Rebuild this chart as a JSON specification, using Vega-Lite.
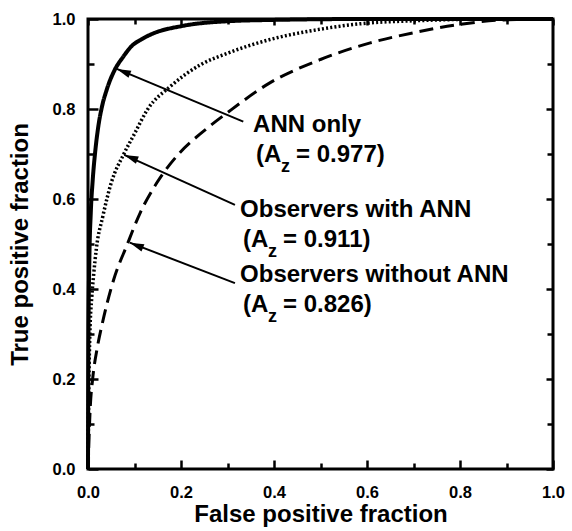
{
  "$schema": "https://vega.github.io/schema/vega-lite/v6.json",
  "width": 465,
  "height": 450,
  "autosize": {"type": "none"},
  "padding": {"left": 88, "top": 19, "right": 19, "bottom": 62},
  "background": "white",
  "config": {
    "view": {"stroke": "black", "strokeWidth": 3},
    "font": "Liberation Sans",
    "axis": {
      "domain": false,
      "grid": false,
      "tickColor": "black",
      "tickWidth": 2.5,
      "labelFont": "Liberation Sans",
      "labelFontWeight": "bold",
      "labelFontSize": 16.5,
      "labelColor": "black",
      "labelFlush": false,
      "labelOverlap": false,
      "titleFont": "Liberation Sans",
      "titleFontWeight": "bold",
      "titleFontSize": 24,
      "titleColor": "black"
    }
  },
  "datasets": {
    "curves": [
      {"series": "ANN only", "fpf": 0, "tpf": 0},
      {"series": "ANN only", "fpf": 0.001, "tpf": 0.3},
      {"series": "ANN only", "fpf": 0.003, "tpf": 0.47},
      {"series": "ANN only", "fpf": 0.006, "tpf": 0.57},
      {"series": "ANN only", "fpf": 0.01, "tpf": 0.64},
      {"series": "ANN only", "fpf": 0.016, "tpf": 0.71},
      {"series": "ANN only", "fpf": 0.022, "tpf": 0.76},
      {"series": "ANN only", "fpf": 0.03, "tpf": 0.805},
      {"series": "ANN only", "fpf": 0.04, "tpf": 0.842},
      {"series": "ANN only", "fpf": 0.058, "tpf": 0.888},
      {"series": "ANN only", "fpf": 0.075, "tpf": 0.915},
      {"series": "ANN only", "fpf": 0.094, "tpf": 0.94},
      {"series": "ANN only", "fpf": 0.115, "tpf": 0.955},
      {"series": "ANN only", "fpf": 0.143, "tpf": 0.969},
      {"series": "ANN only", "fpf": 0.2, "tpf": 0.984},
      {"series": "ANN only", "fpf": 0.3, "tpf": 0.995},
      {"series": "ANN only", "fpf": 0.4, "tpf": 0.998},
      {"series": "ANN only", "fpf": 0.6, "tpf": 1.0},
      {"series": "ANN only", "fpf": 1.0, "tpf": 1.0},
      {"series": "Observers with ANN", "fpf": 0, "tpf": 0},
      {"series": "Observers with ANN", "fpf": 0.002, "tpf": 0.2},
      {"series": "Observers with ANN", "fpf": 0.004, "tpf": 0.3},
      {"series": "Observers with ANN", "fpf": 0.008, "tpf": 0.38},
      {"series": "Observers with ANN", "fpf": 0.012, "tpf": 0.43},
      {"series": "Observers with ANN", "fpf": 0.018, "tpf": 0.49},
      {"series": "Observers with ANN", "fpf": 0.032, "tpf": 0.562},
      {"series": "Observers with ANN", "fpf": 0.05, "tpf": 0.636},
      {"series": "Observers with ANN", "fpf": 0.077, "tpf": 0.7},
      {"series": "Observers with ANN", "fpf": 0.1, "tpf": 0.745},
      {"series": "Observers with ANN", "fpf": 0.128, "tpf": 0.799},
      {"series": "Observers with ANN", "fpf": 0.178, "tpf": 0.851},
      {"series": "Observers with ANN", "fpf": 0.243, "tpf": 0.899},
      {"series": "Observers with ANN", "fpf": 0.3, "tpf": 0.924},
      {"series": "Observers with ANN", "fpf": 0.39, "tpf": 0.954},
      {"series": "Observers with ANN", "fpf": 0.498, "tpf": 0.977},
      {"series": "Observers with ANN", "fpf": 0.591, "tpf": 0.99},
      {"series": "Observers with ANN", "fpf": 0.7, "tpf": 0.996},
      {"series": "Observers with ANN", "fpf": 0.8, "tpf": 0.999},
      {"series": "Observers with ANN", "fpf": 0.9, "tpf": 1.0},
      {"series": "Observers with ANN", "fpf": 1.0, "tpf": 1.0},
      {"series": "Observers without ANN", "fpf": 0, "tpf": 0},
      {"series": "Observers without ANN", "fpf": 0.005, "tpf": 0.14},
      {"series": "Observers without ANN", "fpf": 0.01, "tpf": 0.2},
      {"series": "Observers without ANN", "fpf": 0.02, "tpf": 0.27},
      {"series": "Observers without ANN", "fpf": 0.03, "tpf": 0.32},
      {"series": "Observers without ANN", "fpf": 0.055, "tpf": 0.42},
      {"series": "Observers without ANN", "fpf": 0.084, "tpf": 0.498},
      {"series": "Observers without ANN", "fpf": 0.113, "tpf": 0.571},
      {"series": "Observers without ANN", "fpf": 0.148, "tpf": 0.636},
      {"series": "Observers without ANN", "fpf": 0.194, "tpf": 0.699},
      {"series": "Observers without ANN", "fpf": 0.25, "tpf": 0.752},
      {"series": "Observers without ANN", "fpf": 0.3, "tpf": 0.792},
      {"series": "Observers without ANN", "fpf": 0.391, "tpf": 0.858},
      {"series": "Observers without ANN", "fpf": 0.5, "tpf": 0.91},
      {"series": "Observers without ANN", "fpf": 0.607, "tpf": 0.947},
      {"series": "Observers without ANN", "fpf": 0.698, "tpf": 0.969},
      {"series": "Observers without ANN", "fpf": 0.8, "tpf": 0.988},
      {"series": "Observers without ANN", "fpf": 0.892, "tpf": 0.998},
      {"series": "Observers without ANN", "fpf": 1.0, "tpf": 1.0}
    ],
    "notes": [
      {"series": "ANN only", "az": "0.977", "tipX": 0.062, "tipY": 0.889, "tailX": 0.334, "tailY": 0.772, "textX": 0.355, "textY": 0.75},
      {"series": "Observers with ANN", "az": "0.911", "tipX": 0.078, "tipY": 0.698, "tailX": 0.316, "tailY": 0.587, "textX": 0.327, "textY": 0.561},
      {"series": "Observers without ANN", "az": "0.826", "tipX": 0.09, "tipY": 0.503, "tailX": 0.316, "tailY": 0.413, "textX": 0.327, "textY": 0.416}
    ]
  },
  "layer": [
    {
      "data": {"name": "curves"},
      "mark": {"type": "line", "color": "black", "strokeCap": "butt", "strokeJoin": "round", "interpolate": "monotone"},
      "encoding": {
        "x": {
          "field": "fpf", "type": "quantitative",
          "scale": {"domain": [0, 1], "nice": false, "zero": false},
          "axis": {
            "orient": "bottom",
            "values": [0, 0.1, 0.2, 0.3, 0.4, 0.5, 0.6, 0.7, 0.8, 0.9, 1.0],
            "labelExpr": "round(datum.value*10)%2==0 ? format(datum.value,'.1f') : ''",
            "tickSize": {"condition": {"test": "round(datum.value*10)%2==1", "value": -6}, "value": -9},
            "labelPadding": 24,
            "title": "False positive fraction",
            "titlePadding": -1
          }
        },
        "y": {
          "field": "tpf", "type": "quantitative",
          "scale": {"domain": [0, 1], "nice": false, "zero": false},
          "axis": {
            "orient": "left",
            "values": [0, 0.1, 0.2, 0.3, 0.4, 0.5, 0.6, 0.7, 0.8, 0.9, 1.0],
            "labelExpr": "round(datum.value*10)%2==0 ? format(datum.value,'.1f') : ''",
            "tickSize": {"condition": {"test": "round(datum.value*10)%2==1", "value": -6}, "value": -10},
            "labelPadding": 23,
            "title": "True positive fraction",
            "titlePadding": 20
          }
        },
        "strokeDash": {
          "field": "series", "type": "nominal",
          "scale": {"domain": ["ANN only", "Observers with ANN", "Observers without ANN"], "range": [[1, 0], [2, 2.2], [14, 7]]},
          "legend": null
        },
        "strokeWidth": {
          "field": "series", "type": "nominal",
          "scale": {"domain": ["ANN only", "Observers with ANN", "Observers without ANN"], "range": [4, 3, 4]},
          "legend": null
        }
      }
    },
    {
      "data": {"name": "notes"},
      "mark": {"type": "rule", "color": "black", "strokeWidth": 2},
      "encoding": {
        "x": {
          "field": "tipX", "type": "quantitative",
          "scale": {"domain": [0, 1], "nice": false, "zero": false},
          "axis": {
            "orient": "top",
            "values": [0, 0.1, 0.2, 0.3, 0.4, 0.5, 0.6, 0.7, 0.8, 0.9, 1.0],
            "labels": false,
            "tickSize": {"condition": {"test": "round(datum.value*10)%2==1", "value": -5}, "value": -6},
            "title": null
          }
        },
        "y": {
          "field": "tipY", "type": "quantitative",
          "scale": {"domain": [0, 1], "nice": false, "zero": false},
          "axis": {
            "orient": "right",
            "values": [0, 0.1, 0.2, 0.3, 0.4, 0.5, 0.6, 0.7, 0.8, 0.9, 1.0],
            "labels": false,
            "tickSize": {"condition": {"test": "round(datum.value*10)%2==1", "value": -6}, "value": -7},
            "title": null
          }
        },
        "x2": {"field": "tailX"},
        "y2": {"field": "tailY"}
      }
    },
    {
      "data": {"name": "notes"},
      "mark": {"type": "point", "shape": "M0,0L2,-0.55L2,0.55Z", "filled": true, "color": "black", "opacity": 1, "size": 200, "angle": 22},
      "encoding": {
        "x": {"field": "tipX", "type": "quantitative", "axis": null},
        "y": {"field": "tipY", "type": "quantitative", "axis": null}
      }
    },
    {
      "data": {"name": "notes"},
      "mark": {"type": "text", "align": "left", "baseline": "alphabetic", "fontSize": 24, "fontWeight": "bold", "font": "Liberation Sans", "color": "black"},
      "encoding": {
        "x": {"field": "textX", "type": "quantitative", "axis": null},
        "y": {"field": "textY", "type": "quantitative", "axis": null},
        "text": {"field": "series"}
      }
    },
    {
      "data": {"name": "notes"},
      "mark": {"type": "text", "align": "left", "baseline": "alphabetic", "fontSize": 24, "fontWeight": "bold", "font": "Liberation Sans", "color": "black", "dx": 3, "dy": 30},
      "encoding": {
        "x": {"field": "textX", "type": "quantitative", "axis": null},
        "y": {"field": "textY", "type": "quantitative", "axis": null},
        "text": {"value": "(A"}
      }
    },
    {
      "data": {"name": "notes"},
      "mark": {"type": "text", "align": "left", "baseline": "alphabetic", "fontSize": 18, "fontWeight": "bold", "font": "Liberation Sans", "color": "black", "dx": 28, "dy": 40},
      "encoding": {
        "x": {"field": "textX", "type": "quantitative", "axis": null},
        "y": {"field": "textY", "type": "quantitative", "axis": null},
        "text": {"value": "z"}
      }
    },
    {
      "data": {"name": "notes"},
      "transform": [{"calculate": "'= ' + datum.az + ')'", "as": "azText"}],
      "mark": {"type": "text", "align": "left", "baseline": "alphabetic", "fontSize": 24, "fontWeight": "bold", "font": "Liberation Sans", "color": "black", "dx": 43, "dy": 30},
      "encoding": {
        "x": {"field": "textX", "type": "quantitative", "axis": null},
        "y": {"field": "textY", "type": "quantitative", "axis": null},
        "text": {"field": "azText"}
      }
    }
  ],
  "resolve": {"axis": {"x": "independent", "y": "independent"}}
}
